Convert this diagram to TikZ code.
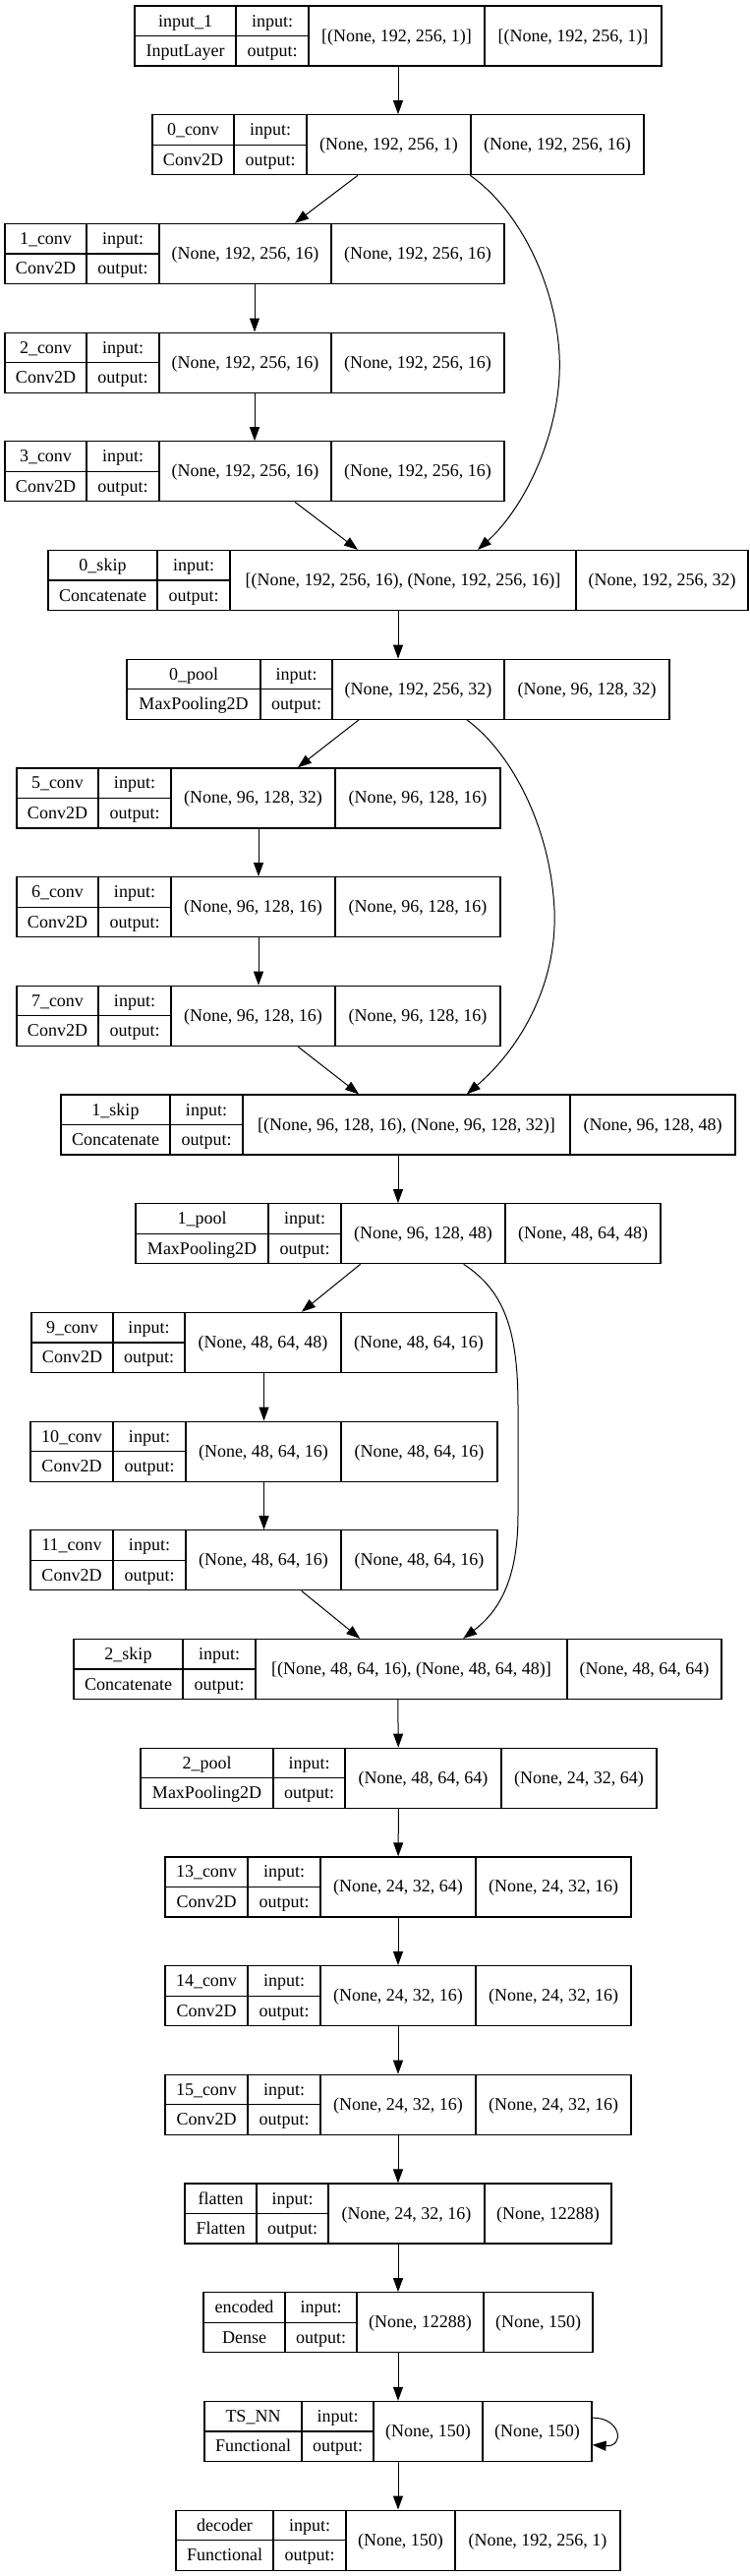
\documentclass[tikz,border=0pt]{standalone}
\usepackage{fontspec}
\setmainfont{Liberation Serif}
\usetikzlibrary{arrows.meta,fit}

\tikzset{
  layer/.style={draw,line width=0.6pt,inner sep=0pt},
  sep/.style={line width=0.6pt},
  lbl/.style={anchor=base,inner sep=0pt,font=\fontsize{9}{10}\selectfont},
  arr/.style={-{Triangle[length=7pt,width=5pt]},line width=0.5pt},
}

\begin{document}
\begin{tikzpicture}[x=0.5pt,y=-0.5pt]
  \useasboundingbox (0,0) rectangle (763,2619);
  % layer records: name / row / column edges / texts
  \foreach \id/\row/\xa/\xb/\xc/\xd/\xe/\nm/\cls/\inp/\outp in {
    in1/0/137/240/314/493/673/input\_1/InputLayer/{[(None, 192, 256, 1)]}/{[(None, 192, 256, 1)]},
    c0/1/155/238/312/479/655/0\_conv/Conv2D/{(None, 192, 256, 1)}/{(None, 192, 256, 16)},
    c1/2/5/88/162/337/513/1\_conv/Conv2D/{(None, 192, 256, 16)}/{(None, 192, 256, 16)},
    c2/3/5/88/162/337/513/2\_conv/Conv2D/{(None, 192, 256, 16)}/{(None, 192, 256, 16)},
    c3/4/5/88/162/337/513/3\_conv/Conv2D/{(None, 192, 256, 16)}/{(None, 192, 256, 16)},
    sk0/5/49/160/234/586/761/0\_skip/Concatenate/{[(None, 192, 256, 16), (None, 192, 256, 16)]}/{(None, 192, 256, 32)},
    p0/6/129/265/338/513/681/0\_pool/MaxPooling2D/{(None, 192, 256, 32)}/{(None, 96, 128, 32)},
    c5/7/17/100/174/341/509/5\_conv/Conv2D/{(None, 96, 128, 32)}/{(None, 96, 128, 16)},
    c6/8/17/100/174/341/509/6\_conv/Conv2D/{(None, 96, 128, 16)}/{(None, 96, 128, 16)},
    c7/9/17/100/174/341/509/7\_conv/Conv2D/{(None, 96, 128, 16)}/{(None, 96, 128, 16)},
    sk1/10/62/173/247/580/748/1\_skip/Concatenate/{[(None, 96, 128, 16), (None, 96, 128, 32)]}/{(None, 96, 128, 48)},
    p1/11/138/273/347/514/672/1\_pool/MaxPooling2D/{(None, 96, 128, 48)}/{(None, 48, 64, 48)},
    c9/12/32/115/188/347/505/9\_conv/Conv2D/{(None, 48, 64, 48)}/{(None, 48, 64, 16)},
    c10/13/31/115/189/347/506/10\_conv/Conv2D/{(None, 48, 64, 16)}/{(None, 48, 64, 16)},
    c11/14/31/115/189/347/506/11\_conv/Conv2D/{(None, 48, 64, 16)}/{(None, 48, 64, 16)},
    sk2/15/75/186/260/577/734/2\_skip/Concatenate/{[(None, 48, 64, 16), (None, 48, 64, 48)]}/{(None, 48, 64, 64)},
    p2/16/143/278/351/510/668/2\_pool/MaxPooling2D/{(None, 48, 64, 64)}/{(None, 24, 32, 64)},
    c13/17/168/252/326/484/642/13\_conv/Conv2D/{(None, 24, 32, 64)}/{(None, 24, 32, 16)},
    c14/18/168/252/326/484/642/14\_conv/Conv2D/{(None, 24, 32, 16)}/{(None, 24, 32, 16)},
    c15/19/168/252/326/484/642/15\_conv/Conv2D/{(None, 24, 32, 16)}/{(None, 24, 32, 16)},
    fl/20/188/261/334/493/622/flatten/Flatten/{(None, 24, 32, 16)}/{(None, 12288)},
    enc/21/207/290/363/492/603/encoded/Dense/{(None, 12288)}/{(None, 150)},
    ts/22/208/307/380/491/602/TS\_NN/Functional/{(None, 150)}/{(None, 150)},
    dec/23/179/278/352/463/631/decoder/Functional/{(None, 150)}/{(None, 192, 256, 1)}}{
    \pgfmathsetmacro\yt{6+110.7*\row}
    \pgfmathsetmacro\yb{\yt+61}
    \pgfmathsetmacro\ym{\yt+30.5}
    \node[layer,fit={(\xa,\yt) (\xe,\yb)}] (\id) {};
    \draw[sep] (\xb,\yt) -- (\xb,\yb) (\xc,\yt) -- (\xc,\yb)
               (\xd,\yt) -- (\xd,\yb) (\xa,\ym) -- (\xc,\ym);
    \node[lbl] at ({(\xa+\xb)/2},\yt+21) {\nm};
    \node[lbl] at ({(\xa+\xb)/2},\yt+51.5) {\cls};
    \node[lbl] at ({(\xb+\xc)/2},\yt+21) {input:};
    \node[lbl] at ({(\xb+\xc)/2},\yt+51.5) {output:};
    \node[lbl] at ({(\xc+\xd)/2},\yt+36) {\inp};
    \node[lbl] at ({(\xd+\xe)/2},\yt+36) {\outp};
  }
  % straight edges
  \foreach \a/\b in {in1/c0,c0/c1,c1/c2,c2/c3,c3/sk0,sk0/p0,p0/c5,c5/c6,c6/c7,
      c7/sk1,sk1/p1,p1/c9,c9/c10,c10/c11,c11/sk2,sk2/p2,p2/c13,c13/c14,
      c14/c15,c15/fl,fl/enc,enc/ts,ts/dec}
    \draw[arr] (\a) -- (\b);
  % skip connections
  \draw[arr] (c0.-23.5) .. controls (530,215) and (565,290) .. (569,360)
    .. controls (573,435) and (535,515) .. (sk0.21.9);
  \draw[arr] (p0.-24.8) .. controls (520,765) and (560,840) .. (564,925)
    .. controls (567,1000) and (530,1065) .. (sk1.24.8);
  \draw[arr] (p1.-25.8) .. controls (512,1312) and (527,1350) .. (527,1430)
    -- (527,1540) .. controls (527,1610) and (505,1640) .. (sk2.25.3);
  \draw[arr] (ts.4.5) .. controls (632,2458) and (636,2488) .. (ts.-4.5);
\end{tikzpicture}
\end{document}
